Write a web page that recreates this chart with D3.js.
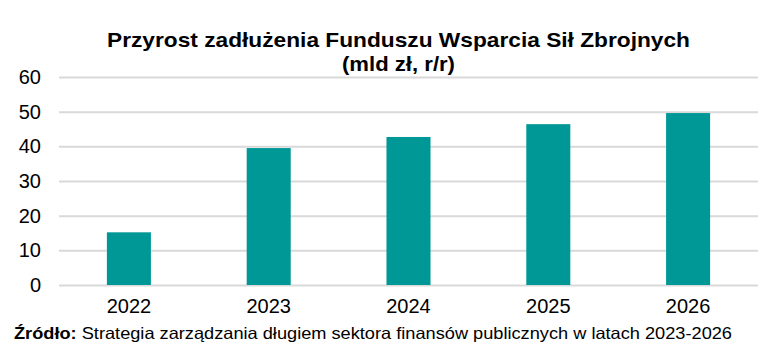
<!DOCTYPE html>
<html>
<head>
<meta charset="utf-8">
<script src="https://cdn.jsdelivr.net/npm/d3@7"></script>
<style>
  body { margin: 0; background: #fff; }
  svg { font-family: "Liberation Sans", Arial, sans-serif; }
</style>
</head>
<body>
<div id="chart"></div>
<script>
// dane z wykresu (mld zł, r/r)
const years = ["2022", "2023", "2024", "2025", "2026"];
const values = [15.2, 39.5, 42.7, 46.4, 49.6];
const yTicks = [0, 10, 20, 30, 40, 50, 60];

const width = 777;
const height = 351;
const margin = {top: 77, right: 19, bottom: 66, left: 59};

const svg = d3.select("#chart")
    .append("svg")
    .attr("width", width)
    .attr("height", height);

const x = d3.scaleBand()
    .domain(years)
    .range([margin.left, width - margin.right])
    .paddingInner(0.685)
    .paddingOuter(0.3425);

const y = d3.scaleLinear()
    .domain([0, 60])
    .range([height - margin.bottom, margin.top]);

// gridlines
svg.append("g")
    .attr("transform", `translate(${margin.left},0)`)
    .call(d3.axisLeft(y).tickValues(yTicks).tickSize(-(width - margin.left - margin.right)).tickFormat(""))
    .call(g => g.select(".domain").remove())
    .call(g => g.selectAll("line").attr("stroke", "#d9d9d9").attr("stroke-width", 2));

// y labels
svg.append("g")
    .attr("transform", `translate(${margin.left - 18},0)`)
    .call(d3.axisLeft(y).tickValues(yTicks).tickSize(0).tickPadding(0))
    .call(g => g.select(".domain").remove())
    .call(g => g.selectAll("text").attr("font-size", 20).attr("fill", "#000")
        .attr("font-family", "Liberation Sans, Arial, sans-serif"));

// bars
svg.append("g")
    .selectAll("rect")
    .data(values)
    .join("rect")
    .attr("x", (d, i) => x(years[i]))
    .attr("y", d => y(d))
    .attr("width", x.bandwidth())
    .attr("height", d => y(0) - y(d))
    .attr("fill", "#009896");

// x labels
svg.append("g")
    .attr("transform", `translate(0,${height - margin.bottom + 14})`)
    .call(d3.axisBottom(x).tickSize(0).tickPadding(0))
    .call(g => g.select(".domain").remove())
    .call(g => g.selectAll("text").attr("font-size", 20).attr("fill", "#000")
        .attr("font-family", "Liberation Sans, Arial, sans-serif"));

// title
const title = svg.append("text")
    .attr("text-anchor", "middle")
    .attr("font-weight", "bold")
    .attr("font-size", 20.5)
    .attr("fill", "#000");
title.append("tspan").attr("x", 398.5).attr("y", 47)
    .attr("textLength", 583).attr("lengthAdjust", "spacingAndGlyphs")
    .text("Przyrost zadłużenia Funduszu Wsparcia Sił Zbrojnych");
title.append("tspan").attr("x", 398.5).attr("y", 71)
    .attr("textLength", 113).attr("lengthAdjust", "spacingAndGlyphs")
    .text("(mld zł, r/r)");

// source
const src = svg.append("text")
    .attr("x", 14)
    .attr("y", 339)
    .attr("font-size", 16.5)
    .attr("fill", "#000")
    .attr("textLength", 718)
    .attr("lengthAdjust", "spacingAndGlyphs");
src.append("tspan").attr("font-weight", "bold").text("Źródło:");
src.append("tspan").text(" Strategia zarządzania długiem sektora finansów publicznych w latach 2023-2026");
</script>
</body>
</html>
